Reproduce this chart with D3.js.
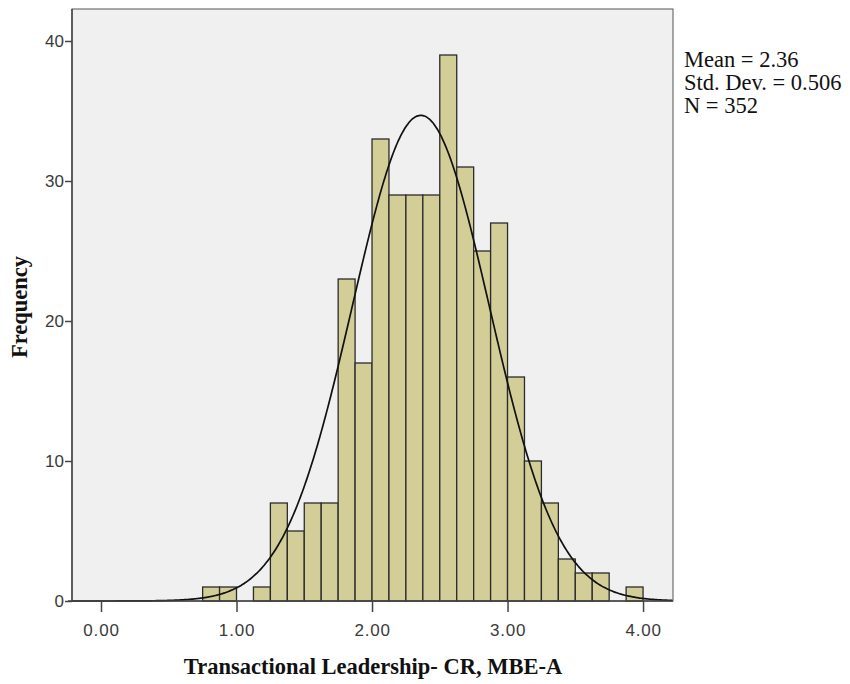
<!DOCTYPE html>
<html>
<head>
<meta charset="utf-8">
<script src="https://cdn.jsdelivr.net/npm/d3@7"></script>
<style>
  body { margin: 0; background: #fff; }
</style>
</head>
<body>
<div id="chart"></div>
<script>
// bins start at these values, each 0.125 wide
const binStarts = [0.75, 0.875, 1.0, 1.125, 1.25, 1.375, 1.5, 1.625, 1.75, 1.875,
  2.0, 2.125, 2.25, 2.375, 2.5, 2.625, 2.75, 2.875, 3.0, 3.125, 3.25, 3.375, 3.5, 3.625, 3.75, 3.875]
const counts = [1, 1, 0, 1, 7, 5, 7, 7, 23, 17,
  33, 29, 29, 29, 39, 31, 25, 27, 16, 10, 7, 3, 2, 2, 0, 1]
const binWidth = 0.125
const xTicks = [0, 1, 2, 3, 4]
const yTicks = [0, 10, 20, 30, 40]
const stats = { mean: 2.36, sd: 0.506, n: 352 }
const statLines = ['Mean = 2.36', 'Std. Dev. = 0.506', 'N = 352']

const width = 850, height = 684
const plot = { left: 72, right: 673, top: 9, bottom: 601 }

const svg = d3.select('#chart').append('svg')
  .attr('width', width)
  .attr('height', height)

const x = d3.scaleLinear()
  .domain([-0.214, 4.221])
  .range([plot.left, plot.right])

const y = d3.scaleLinear()
  .domain([0, 40])
  .range([plot.bottom, 41])

// panel
svg.append('rect')
  .attr('x', plot.left)
  .attr('y', plot.top)
  .attr('width', plot.right - plot.left)
  .attr('height', plot.bottom - plot.top)
  .style('fill', '#f0f0f0')
  .style('stroke', '#555')
  .style('stroke-width', 1)

// bars
svg.append('g').selectAll('rect')
  .data(binStarts.map((b, i) => [b, counts[i]]).filter(d => d[1] > 0))
  .enter().append('rect')
  .attr('x', d => x(d[0]))
  .attr('width', d => x(d[0] + binWidth) - x(d[0]))
  .attr('y', d => y(d[1]))
  .attr('height', d => y(0) - y(d[1]))
  .style('fill', '#d3ce97')
  .style('stroke', '#2b2b2b')
  .style('stroke-width', 1.3)

// normal curve from the shown mean / sd
const pts = d3.range(-0.214, 4.221, 0.01).map(v => {
  const z = (v - stats.mean) / stats.sd
  return [v, stats.n * binWidth * Math.exp(-0.5 * z * z) / (stats.sd * Math.sqrt(2 * Math.PI))]
})
svg.append('path')
  .datum(pts)
  .attr('d', d3.line().x(d => x(d[0])).y(d => y(d[1])).curve(d3.curveBasis))
  .style('fill', 'none')
  .style('stroke', '#111')
  .style('stroke-width', 1.7)

// axes
const xAxis = d3.axisBottom(x).tickValues(xTicks).tickFormat(d3.format('.2f')).tickSize(11).tickSizeOuter(0)
const xg = svg.append('g').attr('transform', 'translate(0,' + plot.bottom + ')').call(xAxis)
const yAxis = d3.axisLeft(y).tickValues(yTicks).tickSize(7).tickSizeOuter(0)
const yg = svg.append('g').attr('transform', 'translate(' + plot.left + ',0)').call(yAxis)

;[xg, yg].forEach(g => {
  g.select('.domain').style('stroke', '#444').style('stroke-width', 1.5)
  g.selectAll('.tick line').style('stroke', '#444').style('stroke-width', 1.5)
  g.selectAll('.tick text')
    .style('font-family', 'Liberation Sans, Arial, sans-serif')
    .style('font-size', '17px')
    .style('fill', '#3a3a3a')
})
xg.selectAll('.tick text').attr('dy', '1.25em').style('letter-spacing', '0.8px')
yg.selectAll('.tick text').attr('x', -8)
yg.select('.domain').attr('d', 'M0,' + plot.bottom + 'V' + plot.top)
xg.select('.domain').attr('d', 'M' + (plot.left - 4) + ',0H' + plot.right)

// titles
svg.append('text')
  .attr('x', 373)
  .attr('y', 674)
  .attr('text-anchor', 'middle')
  .style('font-family', 'Liberation Serif, Times New Roman, serif')
  .style('font-weight', 'bold')
  .style('font-size', '22.5px')
  .style('fill', '#111')
  .text('Transactional Leadership- CR, MBE-A')

svg.append('text')
  .attr('transform', 'translate(27,307) rotate(-90)')
  .attr('text-anchor', 'middle')
  .style('font-family', 'Liberation Serif, Times New Roman, serif')
  .style('font-weight', 'bold')
  .style('font-size', '22.5px')
  .style('fill', '#111')
  .text('Frequency')

svg.append('g').selectAll('text')
  .data(statLines)
  .enter().append('text')
  .attr('x', 684)
  .attr('y', (d, i) => 67 + i * 23)
  .style('font-family', 'Liberation Serif, Times New Roman, serif')
  .style('font-size', '22.5px')
  .style('fill', '#111')
  .text(d => d)
</script>
</body>
</html>
